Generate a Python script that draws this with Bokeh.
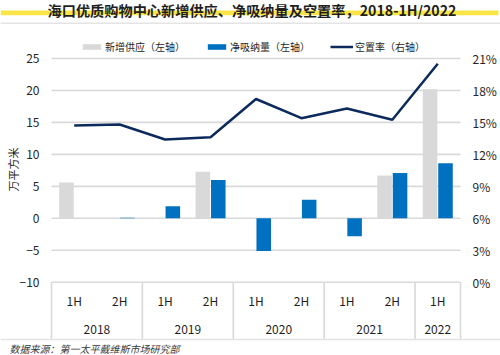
import numpy as np
from bokeh.plotting import figure
from bokeh.models import (Range1d, LinearAxis, FixedTicker, PrintfTickFormatter,
                          ColumnDataSource, Legend, LegendItem)
from bokeh.core.properties import value
from bokeh.embed import file_html
from bokeh.resources import INLINE

# ---------------- data ----------------
years = ["2018", "2018", "2019", "2019", "2020", "2020", "2021", "2021", "2022"]
halves = ["1H", "2H", "1H", "2H", "1H", "2H", "1H", "2H", "1H"]
new_supply = [5.6, 0.0, 0.0, 7.3, 0.0, 0.0, 0.0, 6.7, 20.2]          # 万平方米 (left axis)
net_absorption = [0.0, 0.1, 1.9, 6.0, -5.1, 2.9, -2.8, 7.1, 8.6]     # 万平方米 (left axis)
vacancy_rate = [14.7, 14.8, 13.4, 13.6, 17.2, 15.4, 16.3, 15.25, 20.5]  # % (right axis)
left_ticks = [-10, -5, 0, 5, 10, 15, 20, 25]
right_ticks = [0, 3, 6, 9, 12, 15, 18, 21]

title_text = "海口优质购物中心新增供应、净吸纳量及空置率，2018-1H/2022"
source_text = "数据来源：第一太平戴维斯市场研究部"
legend_labels = ["新增供应（左轴）", "净吸纳量（左轴）", "空置率（右轴）"]
y_label = "万平方米"

# ---------------- geometry (pixels of the 500x355 canvas) ----------------
FONT = "Noto Sans CJK SC"
W, H = 500, 355
PLOT_L, PLOT_R = 51, 460          # horizontal extent of the plotting area
TOP_TICK_PX, BOT_TICK_PX = 58, 281.7
n = len(years)
PPX = (PLOT_R - PLOT_L) / n
PPU = (BOT_TICK_PX - TOP_TICK_PX) / (left_ticks[-1] - left_ticks[0])
x_start = -PLOT_L / PPX
x_end = n + (W - PLOT_R) / PPX
y_top = left_ticks[-1] + TOP_TICK_PX / PPU
y_bot = left_ticks[0] - (H - BOT_TICK_PX) / PPU


def X(px):
    return x_start + px / PPX


def Y(py):
    return y_top - py / PPU


k = (right_ticks[-1] - right_ticks[0]) / (left_ticks[-1] - left_ticks[0])
pct_lo = right_ticks[0] + (y_bot - left_ticks[0]) * k
pct_hi = right_ticks[0] + (y_top - left_ticks[0]) * k

GRID = "#d9d9d9"
FRAME = "#e4e4e4"
GRAY = "#d9d9d9"
BLUE = "#0070c0"
NAVY = "#0c2a5b"
YELLOW = "#f9e547"
TXT = "#1f1f1f"

p = figure(width=W, height=H, output_backend="svg", toolbar_location=None,
           x_range=Range1d(x_start, x_end), y_range=Range1d(y_bot, y_top),
           x_axis_location=None, y_axis_location=None, min_border=0)
p.outline_line_color = None
p.title.visible = False
p.xgrid.visible = False
p.ygrid.visible = False
p.background_fill_color = "white"
p.border_fill_color = "white"
p.extra_y_ranges = {"pct": Range1d(pct_lo, pct_hi)}

# ---------------- axes drawn at the edges of the plotting area ----------------
ly = LinearAxis(ticker=FixedTicker(ticks=left_ticks), fixed_location=0)
ry = LinearAxis(y_range_name="pct", ticker=FixedTicker(ticks=right_ticks),
                formatter=PrintfTickFormatter(format="%d%%"), fixed_location=n)
for ax in (ly, ry):
    ax.axis_line_color = None
    ax.major_tick_line_color = None
    ax.minor_tick_line_color = None
    ax.major_tick_out = 0
    ax.major_tick_in = 0
    ax.minor_tick_out = 0
    ax.minor_tick_in = 0
    ax.major_label_text_font = FONT
    ax.major_label_text_font_size = "12px"
    ax.major_label_text_color = "#262626"
    ax.major_label_standoff = 12
p.add_layout(ly, "left")
p.add_layout(ry, "right")

# horizontal gridlines across the plotting area
p.segment(x0=[0] * len(left_ticks), x1=[n] * len(left_ticks), y0=left_ticks, y1=left_ticks,
          line_color=GRID, line_width=1.6)

# ---------------- data marks ----------------
idx = np.arange(n)
src = ColumnDataSource(dict(xc=idx + 0.5, xs=idx + 0.5 - 0.17, xa=idx + 0.5 + 0.17,
                            supply=new_supply, absorb=net_absorption, rate=vacancy_rate))
r1 = p.vbar(x="xs", top="supply", bottom=0, width=0.32, source=src, fill_color=GRAY, line_color=None)
r2 = p.vbar(x="xa", top="absorb", bottom=0, width=0.32, source=src, fill_color=BLUE, line_color=None)
r3 = p.line(x="xc", y="rate", y_range_name="pct", source=src, line_color=NAVY, line_width=2.5)

# ---------------- two-level category axis ----------------
p.text(x=idx + 0.5, y=[Y(300)] * n, text=halves, text_align="center", text_baseline="middle",
       text_font=value(FONT), text_font_size="12px", text_color=TXT)
uniq_years = list(dict.fromkeys(years))
bounds = [0]
for yname in uniq_years:
    bounds.append(bounds[-1] + years.count(yname))
centers = [(a + b) / 2 for a, b in zip(bounds[:-1], bounds[1:])]
p.text(x=centers, y=[Y(329)] * len(centers), text=uniq_years, text_align="center",
       text_baseline="middle", text_font=value(FONT), text_font_size="12px", text_color=TXT)
p.segment(x0=bounds, x1=bounds, y0=[left_ticks[0]] * len(bounds), y1=[Y(339)] * len(bounds),
          line_color=GRID, line_width=1.6)

# y-axis title
p.text(x=[X(12.5)], y=[Y(169)], text=[y_label], angle=np.pi / 2, text_align="center",
       text_baseline="middle", text_font=value(FONT), text_font_size="11px", text_color=TXT)

# ---------------- legend ----------------
legend = Legend(items=[LegendItem(label=legend_labels[0], renderers=[r1]),
                       LegendItem(label=legend_labels[1], renderers=[r2]),
                       LegendItem(label=legend_labels[2], renderers=[r3])],
                location=(80, 301), orientation="horizontal",
                glyph_width=23, glyph_height=7, label_standoff=2, spacing=20,
                padding=0, margin=0, background_fill_alpha=0, border_line_color=None,
                label_text_font=FONT, label_text_font_size="10px", label_text_color="#262626")
p.add_layout(legend)

# ---------------- header / footer decorations ----------------
p.quad(left=[X(0)], right=[X(498)], top=[Y(10)], bottom=[Y(14.8)], fill_color=YELLOW, line_color=None)
p.text(x=[X(251.5)], y=[Y(9)], text=[title_text], text_align="center", text_baseline="middle",
       text_font=value(FONT), text_font_size="14.2px", text_font_style="bold", text_color=TXT)
p.segment(x0=[X(0), X(0)], x1=[X(W), X(W)], y0=[Y(22.7), Y(339)], y1=[Y(22.7), Y(339)],
          line_color=FRAME, line_width=1.5)
p.text(x=[X(9)], y=[Y(348)], text=[source_text], text_align="left", text_baseline="middle",
       text_font=value(FONT), text_font_size="10px", text_font_style="italic", text_color="#3a3a3a")

open("out.html", "w").write(file_html(p, INLINE))
